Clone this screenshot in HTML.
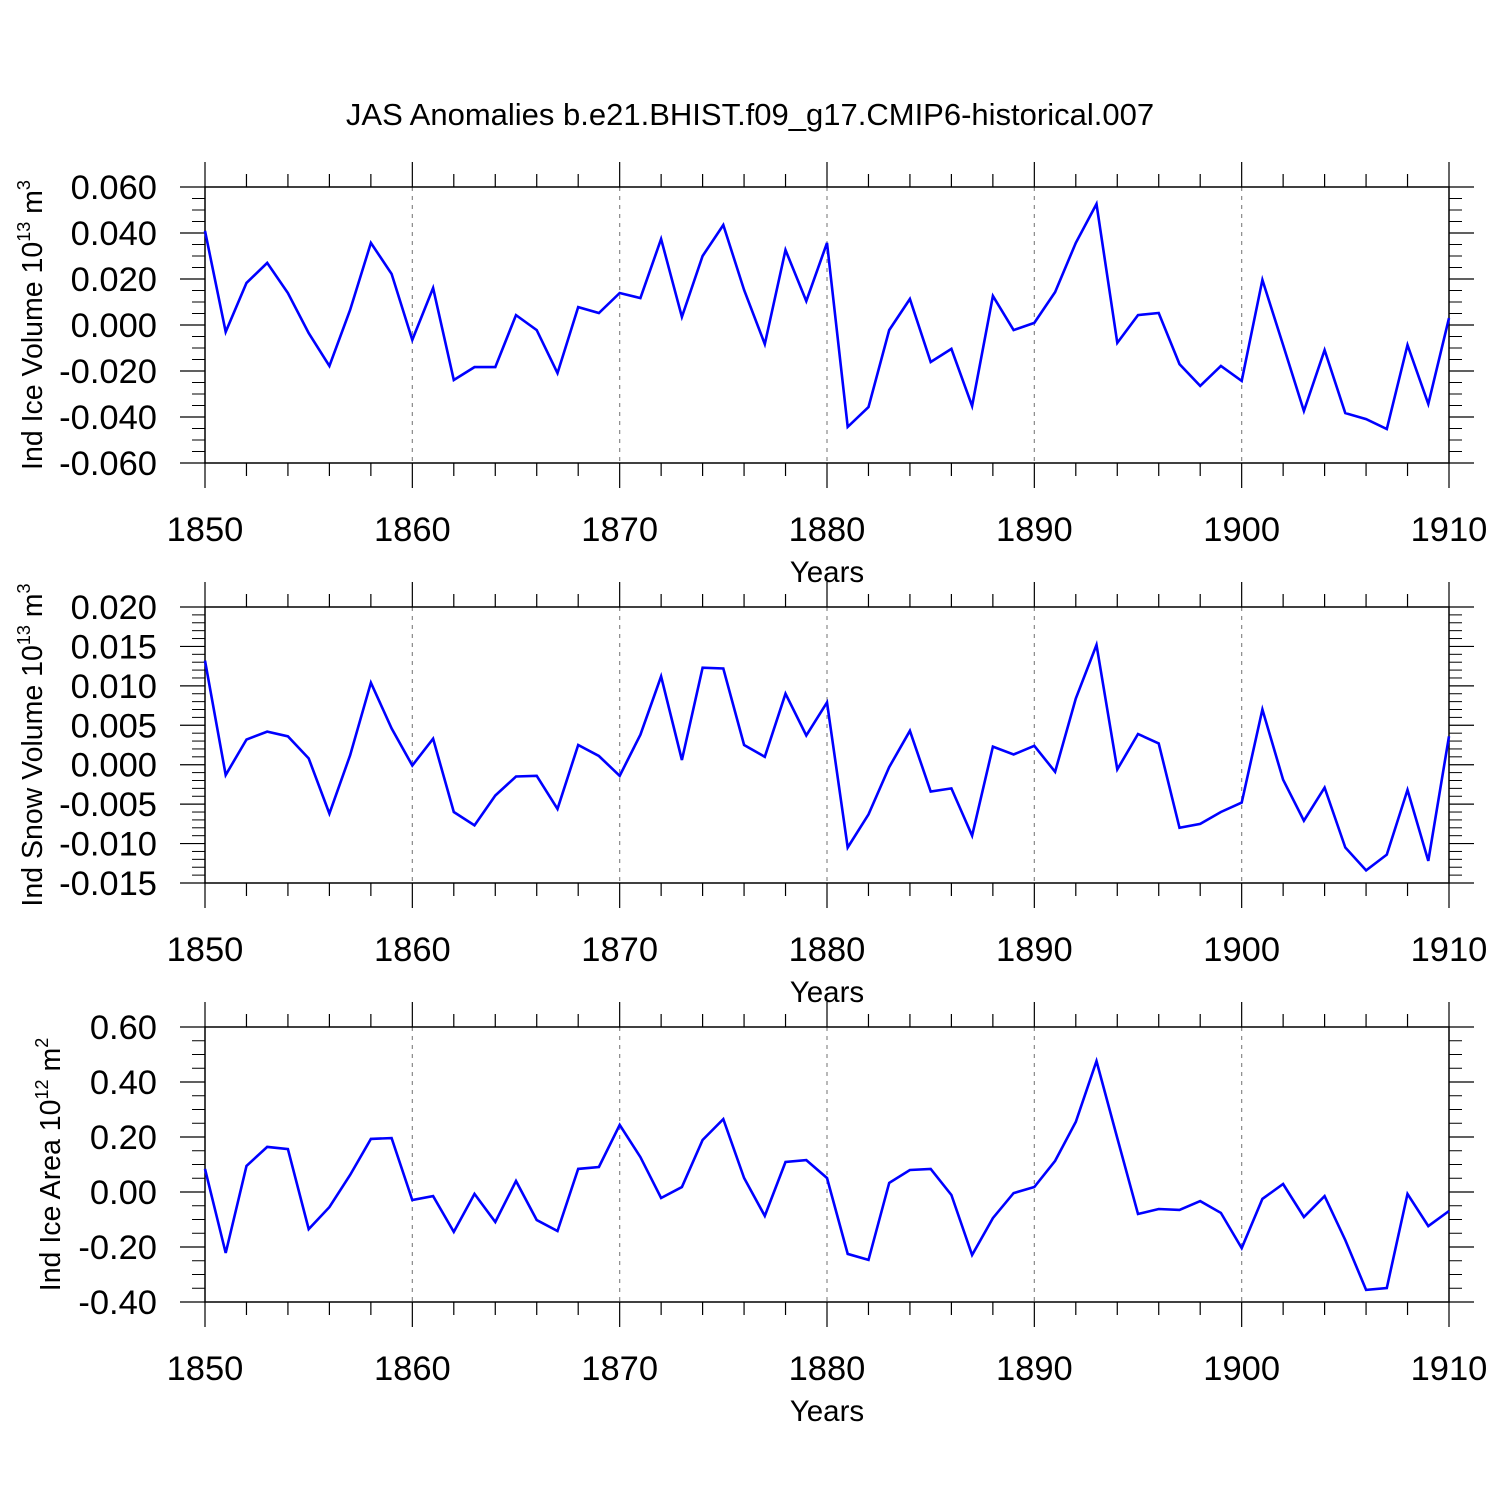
<!DOCTYPE html>
<html><head><meta charset="utf-8"><style>
html,body{margin:0;padding:0;background:#fff;}
svg{display:block;font-family:"Liberation Sans",Arial,sans-serif;}
</style></head><body>
<svg id="chart" width="1500" height="1500" viewBox="0 0 1500 1500" xmlns="http://www.w3.org/2000/svg">
<text x="750" y="125" font-size="31" text-anchor="middle">JAS Anomalies b.e21.BHIST.f09_g17.CMIP6-historical.007</text>
</svg>
<script>
const years = [];
for (let y = 1850; y <= 1910; y++) years.push(y);
const xTickLabels = ["1850","1860","1870","1880","1890","1900","1910"];
const iceVolume = [0.0409,-0.003,0.0183,0.027,0.0139,-0.0035,-0.0178,0.0065,0.0357,0.0222,
-0.0065,0.0161,-0.0239,-0.0183,-0.0183,0.0043,-0.0022,-0.0209,0.0078,0.0052,
0.0139,0.0117,0.0374,0.0035,0.030,0.0435,0.0152,-0.0083,0.0326,0.0104,
0.0357,-0.0443,-0.0357,-0.0022,0.0113,-0.0161,-0.0104,-0.0352,0.0126,-0.0022,
0.0009,0.0143,0.0357,0.0526,-0.0078,0.0043,0.0052,-0.017,-0.0265,-0.0178,
-0.0243,0.0196,-0.0087,-0.0374,-0.0109,-0.0383,-0.0409,-0.0452,-0.0087,-0.0343,0.003];
const snowVolume = [0.0132,-0.0013,0.0032,0.0042,0.0036,0.0008,-0.0062,0.0012,0.0104,0.0046,
-0.0001,0.0033,-0.006,-0.0077,-0.0039,-0.0015,-0.0014,-0.0056,0.0025,0.0011,
-0.0014,0.0038,0.0112,0.0006,0.0123,0.0122,0.0025,0.001,0.009,0.0037,
0.0079,-0.0105,-0.0063,-0.0003,0.0043,-0.0034,-0.003,-0.009,0.0023,0.0013,
0.0024,-0.0009,0.0084,0.0152,-0.0006,0.0039,0.0027,-0.008,-0.0075,-0.006,
-0.0048,0.007,-0.0019,-0.0071,-0.0029,-0.0105,-0.0134,-0.0114,-0.0032,-0.0122,0.0036];
const iceArea = [0.084,-0.222,0.095,0.164,0.156,-0.135,-0.055,0.062,0.193,0.196,
-0.029,-0.015,-0.145,-0.007,-0.109,0.04,-0.102,-0.142,0.084,0.091,
0.244,0.127,-0.022,0.018,0.189,0.265,0.051,-0.087,0.109,0.116,
0.051,-0.225,-0.247,0.033,0.08,0.084,-0.011,-0.229,-0.095,-0.004,
0.018,0.113,0.255,0.476,0.196,-0.08,-0.062,-0.065,-0.033,-0.076,
-0.204,-0.025,0.029,-0.091,-0.015,-0.175,-0.356,-0.349,-0.007,-0.124,-0.069];
const yTicks1 = ["0.060","0.040","0.020","0.000","-0.020","-0.040","-0.060"];
const yTicks2 = ["0.020","0.015","0.010","0.005","0.000","-0.005","-0.010","-0.015"];
const yTicks3 = ["0.60","0.40","0.20","0.00","-0.20","-0.40"];

const NS = "http://www.w3.org/2000/svg";
const svg = document.getElementById("chart");
const X0 = 205, X1 = 1449;
function xScale(yr){ return X0 + (yr - 1850) / 60 * (X1 - X0); }
function mk(tag, attrs, parent){
  const e = document.createElementNS(NS, tag);
  for (const k in attrs) e.setAttribute(k, attrs[k]);
  (parent || svg).appendChild(e);
  return e;
}

function panel(idx, top, bot, ymin, ymax, nMinor, tickLabels, data, titleParts, titleX){
  const g = mk("g", {});
  
  
  const yScale = v => bot - (v - ymin) / (ymax - ymin) * (bot - top);
  const nMaj = tickLabels.length;
  const step = (ymax - ymin) / (nMaj - 1);
  for (let yr = 1860; yr <= 1900; yr += 10) {
    const l = mk("line", {x1: xScale(yr), x2: xScale(yr), y1: top, y2: bot, stroke: "#888", "stroke-width": 1.2, "stroke-dasharray": "4,5"}, g);
    
    
  }
  const fr = mk("rect", {x: X0, y: top, width: X1 - X0, height: bot - top, fill: "none", stroke: "#000", "stroke-width": 1.5}, g);
  
  
  for (let yr = 1850; yr <= 1910; yr += 2) {
    const major = (yr % 10 === 0);
    const len = major ? 25 : 13;
    const x = xScale(yr);
    mk("line", {x1: x, x2: x, y1: top, y2: top - len, stroke: "#000", "stroke-width": 1.2}, g);
    mk("line", {x1: x, x2: x, y1: bot, y2: bot + len, stroke: "#000", "stroke-width": 1.2}, g);
  }
  xTickLabels.forEach((lab) => {
    const t = mk("text", {x: xScale(+lab), y: bot + 78, "font-size": 34.5, "text-anchor": "middle"}, g);
    t.textContent = lab;
    
    
  });
  const xt = mk("text", {x: 827, y: bot + 119, "font-size": 29.5, "text-anchor": "middle"}, g);
  xt.textContent = "Years";
  
  
  for (let i = 0; i < nMaj; i++) {
    const v = ymax - i * step;
    const y = yScale(v);
    mk("line", {x1: X0, x2: X0 - 25, y1: y, y2: y, stroke: "#000", "stroke-width": 1.2}, g);
    mk("line", {x1: X1, x2: X1 + 25, y1: y, y2: y, stroke: "#000", "stroke-width": 1.2}, g);
    const t = mk("text", {x: 157, y: y + 12, "font-size": 34.5, "text-anchor": "end"}, g);
    t.textContent = tickLabels[i];
    
    
    if (i < nMaj - 1) {
      for (let m = 1; m <= nMinor; m++) {
        const ym = yScale(v - step * m / (nMinor + 1));
        mk("line", {x1: X0, x2: X0 - 13, y1: ym, y2: ym, stroke: "#000", "stroke-width": 1}, g);
        mk("line", {x1: X1, x2: X1 + 13, y1: ym, y2: ym, stroke: "#000", "stroke-width": 1}, g);
      }
    }
  }
  const cy = (top + bot) / 2;
  const yt = mk("text", {x: titleX, y: cy, "font-size": 28.5, "text-anchor": "middle", transform: "rotate(-90 " + titleX + " " + cy + ")"}, g);
  
  
  const s1 = mk("tspan", {}, yt); s1.textContent = titleParts[0];
  const s2 = mk("tspan", {"font-size": 18, dy: -12}, yt); s2.textContent = titleParts[1];
  const s3 = mk("tspan", {dy: 12}, yt); s3.textContent = " m";
  const s4 = mk("tspan", {"font-size": 18, dy: -12}, yt); s4.textContent = titleParts[2];
  const pts = data.map((v, i) => xScale(years[i]).toFixed(1) + "," + yScale(v).toFixed(1)).join(" ");
  const pl = mk("polyline", {points: pts, fill: "none", stroke: "#0000ff", "stroke-width": 2.6, "stroke-linejoin": "miter"}, g);
  
  
}

panel(1, 187, 463, -0.06, 0.06, 3, yTicks1, iceVolume, ["Ind Ice Volume 10", "13", "3"], 42);
panel(2, 607, 883, -0.015, 0.02, 4, yTicks2, snowVolume, ["Ind Snow Volume 10", "13", "3"], 42);
panel(3, 1027, 1302, -0.4, 0.6, 3, yTicks3, iceArea, ["Ind Ice Area 10", "12", "2"], 60);
</script>
</body></html>
